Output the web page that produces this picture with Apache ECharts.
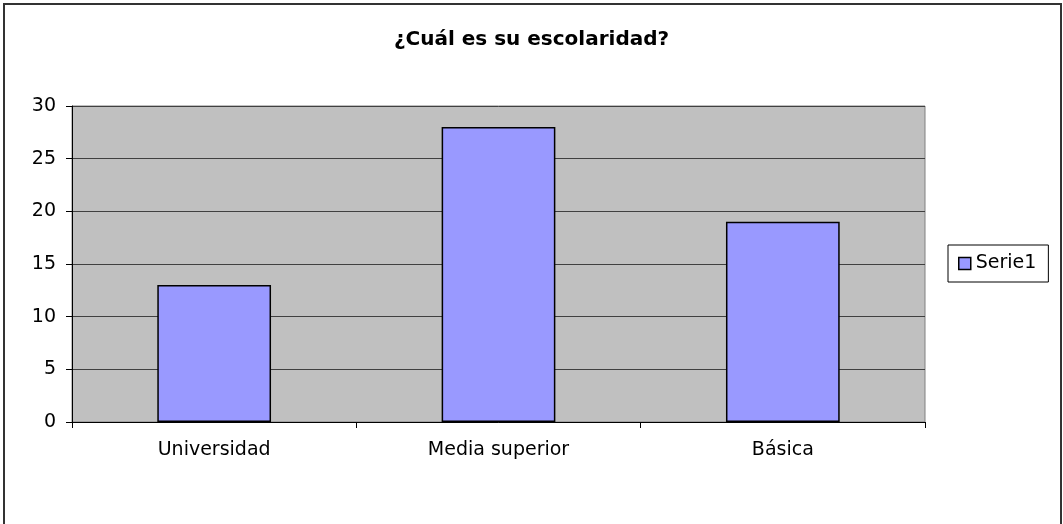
<!DOCTYPE html>
<html>
<head>
<meta charset="utf-8">
<script src="https://cdn.jsdelivr.net/npm/echarts@6/dist/echarts.min.js"></script>
<style>
  html, body { margin: 0; padding: 0; background: #fff; }
  #chart { width: 1063px; height: 524px; }
</style>
</head>
<body>
<div id="chart"></div>
<script>
var categories = ['Universidad', 'Media superior', 'Básica'];
var serie1 = [13, 28, 19];
var titleText = '¿Cuál es su escolaridad?';

var chart = echarts.init(document.getElementById('chart'));
var font = '"DejaVu Sans", Arial, sans-serif';

chart.setOption({
  animation: false,
  backgroundColor: '#fff',
  title: {
    text: titleText,
    left: 'center',
    top: 25,
    textStyle: { fontFamily: font, fontSize: 20, fontWeight: 'bold', color: '#000' }
  },
  graphic: [{
    type: 'rect',
    shape: { x: 4, y: 4, width: 1057, height: 540 },
    style: { fill: 'none', stroke: '#333', lineWidth: 2 },
    silent: true
  }],
  legend: {
    left: 948,
    top: 245,
    orient: 'vertical',
    padding: [9, 12, 9, 10],
    borderColor: '#000',
    borderWidth: 1,
    itemWidth: 12,
    itemHeight: 12,
    itemGap: 6,
    textStyle: { fontFamily: font, fontSize: 19, color: '#000' },
    data: [{ name: 'Serie1', icon: 'rect', itemStyle: { borderColor: '#000', borderWidth: 1.5 } }]
  },
  grid: {
    left: 72,
    top: 106,
    width: 853,
    height: 316,
    show: true,
    backgroundColor: '#c0c0c0',
    borderColor: '#808080',
    borderWidth: 1
  },
  xAxis: {
    type: 'category',
    data: categories,
    boundaryGap: true,
    axisLine: { lineStyle: { color: '#000', width: 1 } },
    axisTick: { show: true, length: 6, lineStyle: { color: '#000' } },
    axisLabel: { fontFamily: font, fontSize: 19, color: '#000', margin: 19 }
  },
  yAxis: {
    type: 'value',
    min: 0,
    max: 30,
    interval: 5,
    axisLine: { show: true, lineStyle: { color: '#000', width: 1 } },
    axisTick: { show: true, length: 6, lineStyle: { color: '#000' } },
    axisLabel: { fontFamily: font, fontSize: 19, color: '#000', margin: 16 },
    splitLine: { show: true, lineStyle: { color: '#404040', width: 1 } }
  },
  series: [{
    name: 'Serie1',
    type: 'bar',
    data: serie1,
    barWidth: '40%',
    itemStyle: { color: '#9999ff', borderColor: '#000', borderWidth: 1.5 }
  }]
});
</script>
</body>
</html>
